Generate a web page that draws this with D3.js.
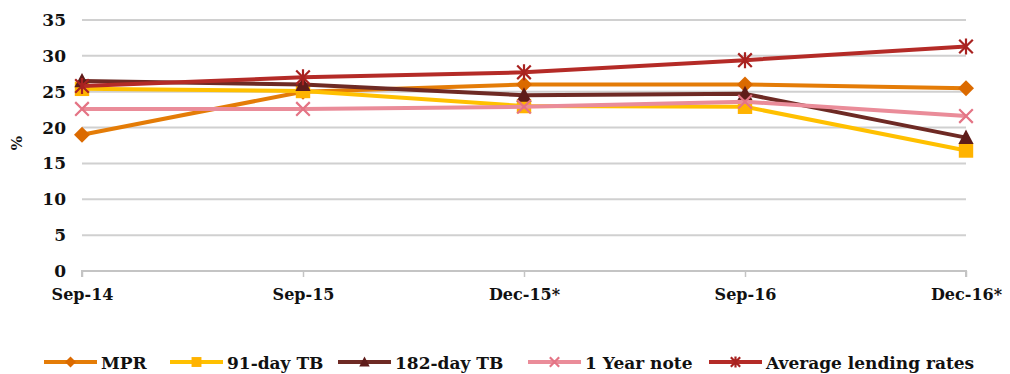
<!DOCTYPE html>
<html>
<head>
<meta charset="utf-8">
<script src="https://cdn.jsdelivr.net/npm/d3@7"></script>
<style>
  html, body { margin: 0; padding: 0; background: #fff; }
  svg { display: block; }
  text { font-family: "DejaVu Serif", "Liberation Serif", serif; font-weight: bold; fill: #111; }
</style>
</head>
<body>
<svg id="chart" width="1010" height="374"></svg>
<script>
// Periods on the x axis
const periods = ["Sep-14", "Sep-15", "Dec-15*", "Sep-16", "Dec-16*"];

// Rates in percent, one array per series
const mpr       = [19.0, 25.0, 26.0, 26.0, 25.5];
const tb91      = [25.4, 25.1, 23.0, 22.9, 16.8];
const tb182     = [26.5, 26.0, 24.5, 24.7, 18.6];
const yearNote  = [22.6, 22.6, 22.9, 23.6, 21.6];
const lending   = [25.8, 27.0, 27.7, 29.4, 31.3];

const yTicks = [0, 5, 10, 15, 20, 25, 30, 35];

const seriesNames  = ["MPR", "91-day TB", "182-day TB", "1 Year note", "Average lending rates"];
const seriesValues = [mpr, tb91, tb182, yearNote, lending];
const lineColors   = ["#E47C07", "#FFC000", "#6E2A24", "#EA8C99", "#B42B27"];
const markColors   = ["#DB6A00", "#FFB300", "#5E1C1A", "#E47485", "#A82220"];
const markShapes   = ["diamond", "square", "triangle", "cross", "star"];

const series = seriesNames.map((name, i) => ({
  name, values: seriesValues[i], line: lineColors[i], mark: markColors[i], shape: markShapes[i]
}));

const svg = d3.select("#chart");

const x = d3.scalePoint().domain(periods).range([82, 966]);
const y = d3.scaleLinear().domain([0, 35]).range([271, 20]);

// Horizontal gridlines
svg.append("g")
  .selectAll("line")
  .data(yTicks.filter(d => d > 0))
  .join("line")
  .attr("x1", 82).attr("x2", 966)
  .attr("y1", d => y(d)).attr("y2", d => y(d))
  .attr("stroke", "#d0d0d0").attr("stroke-width", 2);

// Y axis labels
const yAxis = svg.append("g")
  .attr("transform", "translate(70,0)")
  .call(d3.axisLeft(y).tickValues(yTicks).tickSize(0).tickPadding(4));
yAxis.select(".domain").remove();
yAxis.selectAll("text")
  .attr("font-size", 17)
  .attr("font-family", "DejaVu Serif")
  .attr("font-weight", "bold")
  .attr("fill", "#111");

// X axis with ticks below the baseline
const xAxis = svg.append("g")
  .attr("transform", `translate(0,${y(0)})`)
  .call(d3.axisBottom(x).tickSize(6).tickSizeOuter(0).tickPadding(12));
xAxis.select(".domain")
  .attr("d", `M${x(periods[0])},6V0H${x(periods[periods.length - 1])}V6`)
  .attr("stroke", "#c4c4c4").attr("stroke-width", 2).attr("fill", "none");
xAxis.selectAll(".tick line").attr("stroke", "#c4c4c4").attr("stroke-width", 1.5);
xAxis.selectAll("text")
  .attr("font-size", 16)
  .attr("font-family", "DejaVu Serif")
  .attr("font-weight", "bold")
  .attr("fill", "#111");

// Y axis title
svg.append("text")
  .attr("transform", "translate(22,143) rotate(-90)")
  .attr("text-anchor", "middle")
  .attr("font-size", 15)
  .text("%");

// Marker drawing helper
function drawMarker(g, shape, color, size) {
  const s = size / 2;
  if (shape === "diamond") {
    g.append("path").attr("d", `M0,${-s}L${s},0L0,${s}L${-s},0Z`).attr("fill", color);
  } else if (shape === "square") {
    const h = s * 0.9;
    g.append("rect").attr("x", -h).attr("y", -h).attr("width", 2 * h).attr("height", 2 * h).attr("fill", color);
  } else if (shape === "triangle") {
    g.append("path").attr("d", `M0,${-s}L${s * 0.95},${s * 0.8}L${-s * 0.95},${s * 0.8}Z`).attr("fill", color);
  } else if (shape === "cross") {
    const h = s * 0.85;
    g.append("path").attr("d", `M${-h},${-h}L${h},${h}M${-h},${h}L${h},${-h}`)
      .attr("stroke", color).attr("stroke-width", 2.2).attr("fill", "none");
  } else if (shape === "star") {
    const h = s * 0.85;
    g.append("path").attr("d", `M${-h},${-h}L${h},${h}M${-h},${h}L${h},${-h}M0,${-s}L0,${s}`)
      .attr("stroke", color).attr("stroke-width", 2.2).attr("fill", "none");
  }
}

const line = d3.line().x((d, i) => x(periods[i])).y(d => y(d));

// Lines and markers for each series
series.forEach(sr => {
  const g = svg.append("g");
  g.append("path")
    .datum(sr.values)
    .attr("d", line)
    .attr("fill", "none")
    .attr("stroke", sr.line)
    .attr("stroke-width", 4)
    .attr("stroke-linejoin", "round");
  sr.values.forEach((v, i) => {
    const m = g.append("g").attr("transform", `translate(${x(periods[i])},${y(v)})`);
    drawMarker(m, sr.shape, sr.mark, 16);
  });
});

// Legend along the bottom
const legendX = [44, 170, 338, 528, 709];
const legend = svg.append("g");
series.forEach((sr, i) => {
  const g = legend.append("g").attr("transform", `translate(${legendX[i]},362)`);
  g.append("line").attr("x1", 0).attr("x2", 53).attr("y1", 0).attr("y2", 0)
    .attr("stroke", sr.line).attr("stroke-width", 4);
  const m = g.append("g").attr("transform", "translate(26.5,0)");
  drawMarker(m, sr.shape, sr.mark, 11);
  g.append("text")
    .attr("x", 57).attr("y", 7)
    .attr("font-size", 17)
    .text(sr.name);
});
</script>
</body>
</html>
